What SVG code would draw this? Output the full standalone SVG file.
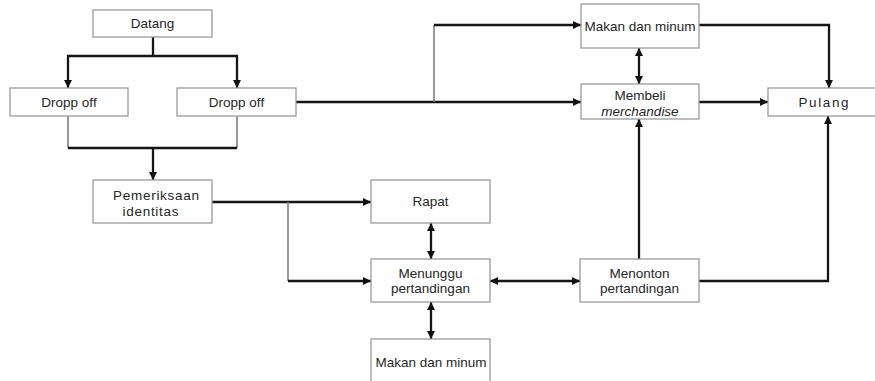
<svg xmlns="http://www.w3.org/2000/svg" width="875" height="381" viewBox="0 0 875 381">
<defs>
<marker id="ah" viewBox="0 0 10 10" refX="10" refY="5" markerWidth="8" markerHeight="8" markerUnits="userSpaceOnUse" orient="auto-start-reverse">
<path d="M0,0 L10,5 L0,10 Z" fill="#111"/>
</marker>
</defs>
<style>
.box{fill:#fff;stroke:#9a9a9a;stroke-width:1.3}
.t{font-family:"Liberation Sans",Arial,sans-serif;font-size:13.5px;fill:#262626;text-anchor:middle}
.th{fill:none;stroke:#151515;stroke-width:2.3}
.tn{fill:none;stroke:#777;stroke-width:1.5}
.a{marker-end:url(#ah)}
.aa{marker-start:url(#ah);marker-end:url(#ah)}
</style>
<rect width="875" height="381" fill="#fff"/>
<g id="connectors">
<path class="th" d="M153,37 V56"/>
<path class="th aa" d="M68,88 V56 H237 V88"/>
<path class="tn" d="M68,116 V148 M237,116 V148"/>
<path class="th" d="M68,148 H237"/>
<path class="th a" d="M153,148 V180"/>
<path class="th a" d="M212,202 H371"/>
<path class="tn" d="M288,202 V281"/>
<path class="th a" d="M288,281 H371"/>
<path class="th aa" d="M431,223 V259"/>
<path class="th aa" d="M431,302 V339"/>
<path class="th aa" d="M490,281 H580"/>
<path class="th a" d="M639,259 V119"/>
<path class="th a" d="M699,281 H828 V116"/>
<path class="th a" d="M296,102 H581"/>
<path class="tn" d="M434,102 V25"/>
<path class="th a" d="M434,25 H581"/>
<path class="th aa" d="M639,48 V84"/>
<path class="th a" d="M699,25 H829 V88"/>
<path class="th a" d="M699,102 H768"/>
</g>
<g id="datang"><rect class="box" x="93" y="10" width="119" height="27"/><text class="t" x="152.5" y="28">Datang</text></g>
<g id="dropoff1"><rect class="box" x="10" y="88" width="118" height="28"/><text class="t" x="69" y="107">Dropp off</text></g>
<g id="dropoff2"><rect class="box" x="177" y="88" width="119" height="28"/><text class="t" x="236.5" y="107">Dropp off</text></g>
<g id="pemeriksaan"><rect class="box" x="93" y="180" width="119" height="43"/><text class="t" x="156" y="200" textLength="86">Pemeriksaan</text><text class="t" x="150.5" y="216" textLength="56">identitas</text></g>
<g id="rapat"><rect class="box" x="371" y="180" width="119" height="43"/><text class="t" x="430.5" y="206">Rapat</text></g>
<g id="menunggu"><rect class="box" x="371" y="259" width="119" height="43"/><text class="t" x="430.5" y="278">Menunggu</text><text class="t" x="430.5" y="293">pertandingan</text></g>
<g id="makan2"><rect class="box" x="371" y="339" width="119" height="46"/><text class="t" x="431" y="367">Makan dan minum</text></g>
<g id="menonton"><rect class="box" x="580" y="259" width="119" height="43"/><text class="t" x="639.5" y="278">Menonton</text><text class="t" x="639.5" y="293">pertandingan</text></g>
<g id="makan1"><rect class="box" x="581" y="4" width="118" height="44"/><text class="t" x="640" y="31" font-size="14px">Makan dan minum</text></g>
<g id="membeli"><rect class="box" x="581" y="84" width="118" height="35"/><text class="t" x="640" y="100">Membeli</text><text class="t" x="640" y="116" font-style="italic">merchandise</text></g>
<g id="pulang"><rect class="box" x="768" y="88" width="112" height="28"/><text class="t" x="823.5" y="107" textLength="50">Pulang</text></g>
</svg>
